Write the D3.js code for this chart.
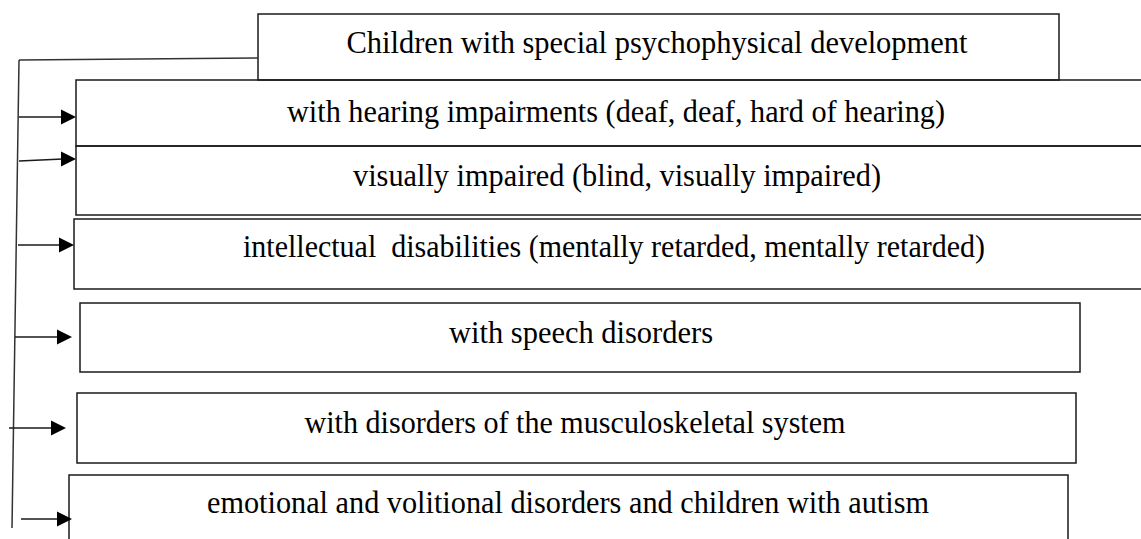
<!DOCTYPE html>
<html>
<head>
<meta charset="utf-8">
<script src="https://cdn.jsdelivr.net/npm/d3@7"></script>
<style>
  html, body { margin: 0; padding: 0; background: #fff; overflow: hidden; }
  svg { display: block; }
</style>
</head>
<body>
<svg id="chart" width="1141" height="539"></svg>
<script>
// ---- content ----
const rootLabel = "Children with special psychophysical development";
const categories = [
  "with hearing impairments (deaf, deaf, hard of hearing)",
  "visually impaired (blind, visually impaired)",
  "intellectual  disabilities (mentally retarded, mentally retarded)",
  "with speech disorders",
  "with disorders of the musculoskeletal system",
  "emotional and volitional disorders and children with autism"
];

// ---- layout (positions / sizes, separate from content) ----
const rootBox = { x0: 258, x1: 1059, y0: 14, y1: 80, tx: 657, ty: 53, tw: 621 };
const boxX0 = [76, 76, 74, 80, 77, 69];
const boxX1 = [1146, 1146, 1146, 1080, 1076, 1068];
const boxY0 = [80, 146, 219, 303, 393, 475];
const boxY1 = [146, 215, 289, 372, 463, 546];
const textX = [616, 617, 614, 581, 575, 568];
const textY = [122, 186, 257, 343, 433, 513];
const textW = [658, 528, 742, 264, 541, 722];
const arrowY0 = [117, 161, 245, 337, 428, 519];
const arrowY1 = [117, 159, 245, 337, 428, 519];
const arrowXs = [19, 19, 18, 15, 9, 21];
const arrowXe = [76, 76, 74, 72, 66, 72];
const spineTop = [19, 60];
const spineBottom = [12, 528];
const rootConnector = [[258, 58], [19, 60]];

const svg = d3.select("#chart");
const ink = "#1a1a1a";
const fontFamily = "'Liberation Serif', 'Times New Roman', serif";
const fontSize = 32;

// root box
svg.append("rect")
  .attr("x", rootBox.x0).attr("y", rootBox.y0)
  .attr("width", rootBox.x1 - rootBox.x0).attr("height", rootBox.y1 - rootBox.y0)
  .attr("fill", "#fff").attr("stroke", ink).attr("stroke-width", 1.5);

svg.append("text")
  .attr("x", rootBox.tx).attr("y", rootBox.ty)
  .attr("text-anchor", "middle")
  .attr("font-family", fontFamily).attr("font-size", fontSize)
  .attr("fill", "#000")
  .attr("textLength", rootBox.tw).attr("lengthAdjust", "spacingAndGlyphs")
  .text(rootLabel);

// category boxes
const items = categories.map((c, i) => ({
  label: c, x0: boxX0[i], x1: boxX1[i], y0: boxY0[i], y1: boxY1[i],
  tx: textX[i], ty: textY[i], tw: textW[i],
  ay0: arrowY0[i], ay1: arrowY1[i], axs: arrowXs[i], axe: arrowXe[i]
}));

const g = svg.append("g");
g.selectAll("rect.box").data(items).join("rect")
  .attr("class", "box")
  .attr("x", d => d.x0).attr("y", d => d.y0)
  .attr("width", d => d.x1 - d.x0).attr("height", d => d.y1 - d.y0)
  .attr("fill", "none").attr("stroke", ink).attr("stroke-width", 1.5);

g.selectAll("text.lbl").data(items).join("text")
  .attr("class", "lbl")
  .attr("x", d => d.tx).attr("y", d => d.ty)
  .attr("text-anchor", "middle")
  .attr("font-family", fontFamily).attr("font-size", fontSize)
  .attr("fill", "#000")
  .attr("textLength", d => d.tw).attr("lengthAdjust", "spacingAndGlyphs")
  .style("white-space", "pre")
  .text(d => d.label);

// connectors
const line = d3.line();
svg.append("path")
  .attr("d", line(rootConnector))
  .attr("fill", "none").attr("stroke", "#333").attr("stroke-width", 1.5);
svg.append("path")
  .attr("d", line([spineTop, spineBottom]))
  .attr("fill", "none").attr("stroke", "#333").attr("stroke-width", 1.5);

// arrows
const headLen = 15, headHalf = 7.5;
const arrows = svg.append("g");
arrows.selectAll("path.shaft").data(items).join("path")
  .attr("class", "shaft")
  .attr("d", d => line([[d.axs, d.ay0], [d.axe - headLen + 2, d.ay1]]))
  .attr("fill", "none").attr("stroke", ink).attr("stroke-width", 1.5);
arrows.selectAll("path.head").data(items).join("path")
  .attr("class", "head")
  .attr("d", d => line([[d.axe, d.ay1], [d.axe - headLen, d.ay1 - headHalf], [d.axe - headLen, d.ay1 + headHalf]]) + "Z")
  .attr("fill", "#000");
</script>
</body>
</html>
